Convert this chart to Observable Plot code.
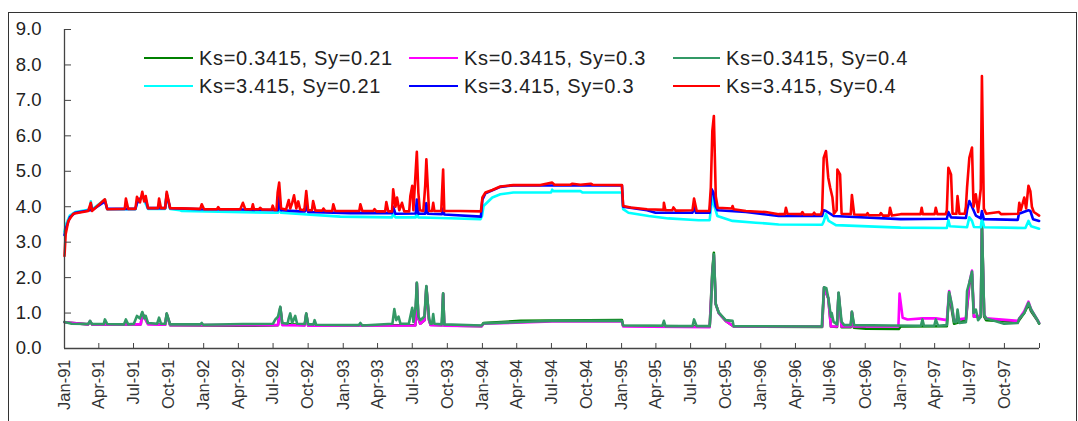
<!DOCTYPE html>
<html><head><meta charset="utf-8">
<script src="https://cdn.jsdelivr.net/npm/d3@7"></script>
<script src="https://cdn.jsdelivr.net/npm/@observablehq/plot@0.6"></script>
<style>
html,body{margin:0;padding:0;background:#fff;overflow:hidden;}
#wrap{position:relative;width:1078px;height:421px;overflow:hidden;}
#frame{position:absolute;left:8px;top:12px;width:1069px;height:440px;border:1px solid #333;box-sizing:border-box;}
#chart{position:absolute;left:0;top:0;}
#legend{position:absolute;left:0;top:0;width:1078px;height:421px;font-family:"Liberation Sans",Arial,sans-serif;font-size:20px;color:#222;letter-spacing:0.7px;}
.item{position:absolute;display:flex;align-items:center;height:24px;white-space:nowrap;}
.swatch{height:2px;margin-right:6px;}
</style></head><body>
<div id="wrap"><div id="frame"></div><div id="chart"></div><div id="legend"></div></div>
<script>
// x values: day number since 1 Jan 1991; y values: series value
const seriesNames = ["Ks=0.3415, Sy=0.21","Ks=0.3415, Sy=0.3","Ks=0.3415, Sy=0.4","Ks=3.415, Sy=0.21","Ks=3.415, Sy=0.3","Ks=3.415, Sy=0.4"];
const seriesColors = ["#008000","#ff00ff","#339966","#00ffff","#0000ff","#ff0000"];
const xTickLabels = ["Jan-91","Apr-91","Jul-91","Oct-91","Jan-92","Apr-92","Jul-92","Oct-92","Jan-93","Apr-93","Jul-93","Oct-93","Jan-94","Apr-94","Jul-94","Oct-94","Jan-95","Apr-95","Jul-95","Oct-95","Jan-96","Apr-96","Jul-96","Oct-96","Jan-97","Apr-97","Jul-97","Oct-97"];
const yTicks = [0,1,2,3,4,5,6,7,8,9];

const green = [[0,0.74],[62,0.68],[67,0.77],[72,0.68],[200,0.68],[204,1.0],[219,0.7],[264,0.67],[268,0.97],[277,0.66],[461,0.64],[540,0.65],[560,0.66],[566,1.15],[571,0.7],[630,0.66],[634,0.97],[639,0.65],[920,0.66],[924,1.84],[928,0.85],[933,0.7],[944,0.8],[949,1.74],[956,0.8],[960,0.67],[990,0.66],[993,1.54],[996,0.65],[1094,0.63],[1099,0.72],[1196,0.78],[1462,0.8],[1465,0.64],[1692,0.62],[1699,2.2],[1703,2.7],[1708,1.25],[1716,1.0],[1734,0.78],[1755,0.62],[1987,0.61],[1992,1.72],[2003,1.42],[2010,0.62],[2026,0.61],[2030,1.56],[2038,0.6],[2062,0.6],[2065,1.02],[2070,0.59],[2102,0.56],[2188,0.55],[2193,0.62],[2314,0.63],[2320,1.55],[2333,0.7],[2364,0.8],[2373,1.8],[2380,2.1],[2385,0.9],[2403,0.9],[2406,3.45],[2412,0.9],[2417,0.8],[2500,0.75],[2517,1.0],[2528,1.25],[2535,1.05],[2552,0.78],[2556,0.7]];

const magenta = [[0,0.74],[62,0.68],[67,0.77],[72,0.68],[200,0.68],[204,1.0],[219,0.68],[264,0.67],[268,0.97],[277,0.66],[560,0.66],[566,1.15],[571,0.66],[630,0.65],[634,0.97],[639,0.64],[920,0.65],[924,1.84],[928,0.85],[933,0.7],[944,0.8],[949,1.74],[956,0.8],[960,0.66],[990,0.65],[993,1.54],[996,0.64],[1094,0.63],[1099,0.7],[1279,0.76],[1462,0.76],[1465,0.62],[1692,0.6],[1699,2.1],[1703,2.62],[1708,1.25],[1716,1.0],[1734,0.78],[1755,0.62],[1987,0.62],[1992,1.72],[2003,1.42],[2010,0.62],[2026,0.62],[2030,1.56],[2038,0.62],[2062,0.62],[2065,1.03],[2070,0.62],[2187,0.62],[2190,1.55],[2198,0.87],[2211,0.82],[2250,0.85],[2285,0.85],[2314,0.8],[2320,1.62],[2333,0.8],[2364,0.85],[2373,1.85],[2380,2.2],[2385,0.9],[2403,0.92],[2406,3.45],[2412,0.95],[2417,0.85],[2500,0.78],[2517,1.05],[2528,1.32],[2535,1.1],[2552,0.8],[2556,0.72]];

const seagreen = [[0,0.75],[19,0.7],[62,0.69],[67,0.78],[72,0.69],[103,0.69],[106,0.82],[112,0.69],[156,0.68],[161,0.82],[167,0.68],[182,0.7],[190,0.92],[198,0.85],[204,1.03],[209,0.85],[213,0.92],[219,0.72],[243,0.7],[248,0.87],[253,0.7],[264,0.7],[268,0.99],[277,0.68],[356,0.68],[360,0.72],[364,0.67],[468,0.69],[494,0.69],[547,0.7],[553,0.82],[560,0.9],[566,1.18],[571,0.72],[585,0.7],[588,0.85],[592,0.99],[597,0.72],[605,0.92],[610,0.7],[630,0.69],[634,0.99],[639,0.68],[653,0.68],[656,0.8],[660,0.67],[772,0.66],[776,0.72],[781,0.65],[860,0.7],[865,1.11],[870,0.8],[876,0.9],[881,0.7],[903,0.7],[907,0.9],[912,1.15],[915,0.75],[921,1.2],[924,1.86],[928,0.9],[933,0.8],[944,0.9],[949,1.76],[956,0.85],[960,0.7],[964,0.7],[967,0.97],[970,0.7],[989,0.68],[993,1.56],[996,0.68],[1094,0.65],[1099,0.71],[1231,0.76],[1279,0.78],[1462,0.78],[1465,0.65],[1568,0.64],[1572,0.78],[1576,0.63],[1647,0.63],[1651,0.82],[1658,0.63],[1692,0.63],[1695,1.06],[1699,2.09],[1703,2.66],[1708,1.25],[1716,1.01],[1734,0.8],[1752,0.78],[1755,0.63],[1986,0.62],[1992,1.73],[1998,1.7],[2003,1.43],[2010,0.9],[2012,1.0],[2017,0.75],[2026,0.68],[2030,1.58],[2038,0.75],[2045,0.66],[2062,0.66],[2065,1.04],[2071,0.66],[2167,0.65],[2246,0.64],[2250,0.82],[2254,0.64],[2281,0.64],[2285,0.82],[2291,0.64],[2314,0.66],[2320,1.59],[2327,1.25],[2333,0.75],[2339,0.74],[2342,1.1],[2347,0.72],[2364,0.74],[2367,1.62],[2373,1.86],[2380,2.17],[2384,1.0],[2390,1.1],[2396,0.8],[2403,0.9],[2406,3.5],[2412,0.95],[2417,0.85],[2464,0.7],[2500,0.72],[2504,0.85],[2517,1.0],[2528,1.29],[2535,1.1],[2552,0.8],[2556,0.71]];

const cyan = [[0,3.3],[4,3.5],[14,3.75],[28,3.85],[67,3.92],[69,4.15],[72,3.92],[106,4.2],[112,3.93],[186,3.93],[190,4.1],[204,4.3],[219,3.94],[264,3.94],[268,4.35],[277,3.94],[303,3.9],[308,3.88],[547,3.83],[560,3.83],[563,4.0],[568,3.83],[723,3.72],[859,3.7],[862,3.8],[868,3.7],[921,3.7],[924,3.85],[928,3.7],[986,3.68],[1091,3.65],[1095,3.74],[1099,4.02],[1122,4.26],[1143,4.35],[1177,4.4],[1276,4.4],[1279,4.48],[1282,4.44],[1353,4.44],[1359,4.4],[1462,4.4],[1465,3.93],[1479,3.83],[1532,3.74],[1584,3.67],[1663,3.62],[1692,3.62],[1699,4.3],[1702,4.1],[1712,3.74],[1752,3.6],[1813,3.55],[1873,3.5],[1987,3.49],[1991,3.58],[1997,3.79],[2004,3.6],[2023,3.48],[2193,3.41],[2314,3.4],[2318,3.62],[2322,3.45],[2367,3.42],[2373,3.7],[2380,3.6],[2385,3.43],[2403,3.42],[2406,3.69],[2412,3.42],[2520,3.4],[2528,3.6],[2535,3.45],[2556,3.38]];

const blue = [[0,3.2],[4,3.4],[14,3.7],[28,3.83],[67,3.9],[69,4.08],[72,3.9],[106,4.15],[112,3.94],[186,3.94],[190,4.1],[204,4.3],[213,4.2],[219,3.96],[264,3.96],[268,4.35],[277,3.96],[356,3.93],[461,3.92],[560,3.9],[563,4.3],[568,3.9],[618,3.87],[631,3.87],[634,4.1],[639,3.85],[750,3.82],[859,3.82],[862,4.0],[868,3.8],[921,3.81],[924,4.2],[928,3.8],[946,3.8],[949,4.1],[953,3.8],[990,3.79],[993,3.95],[996,3.78],[1092,3.72],[1096,4.2],[1104,4.38],[1122,4.46],[1143,4.56],[1177,4.6],[1462,4.6],[1465,4.0],[1528,3.9],[1550,3.83],[1647,3.83],[1651,4.0],[1656,3.83],[1692,3.83],[1697,4.5],[1702,4.4],[1708,4.0],[1713,3.9],[1787,3.85],[1873,3.74],[1987,3.74],[1991,3.9],[1997,3.88],[2017,3.74],[2193,3.65],[2314,3.66],[2318,3.85],[2325,3.7],[2364,3.68],[2367,3.9],[2373,4.16],[2380,4.0],[2390,3.75],[2403,3.67],[2406,3.88],[2411,3.65],[2500,3.63],[2503,3.8],[2528,3.9],[2533,3.88],[2540,3.65],[2556,3.6]];

const red = [[0,2.61],[3,3.22],[10,3.6],[23,3.8],[62,3.88],[69,4.11],[72,3.88],[106,4.21],[112,3.93],[158,3.94],[161,4.23],[167,3.94],[186,3.94],[190,4.28],[198,4.12],[204,4.42],[209,4.15],[213,4.3],[219,3.96],[245,3.96],[248,4.23],[253,3.96],[264,3.96],[268,4.42],[277,3.96],[356,3.94],[360,4.07],[366,3.93],[400,3.93],[403,3.99],[407,3.93],[461,3.93],[468,4.11],[474,3.93],[491,3.93],[494,4.07],[497,3.93],[510,3.93],[513,3.97],[518,3.92],[543,3.92],[546,4.03],[550,3.91],[556,3.91],[559,4.4],[563,4.68],[568,3.95],[581,3.92],[588,4.19],[592,3.95],[597,4.1],[602,4.32],[608,3.95],[613,4.15],[618,3.92],[629,3.9],[634,4.44],[639,3.9],[649,3.9],[652,4.16],[658,3.89],[676,3.89],[679,3.95],[684,3.88],[702,3.88],[705,4.07],[710,3.88],[773,3.88],[776,4.07],[781,3.88],[810,3.88],[813,3.93],[818,3.87],[841,3.87],[844,4.13],[849,3.87],[859,3.87],[862,4.49],[868,4.0],[872,4.26],[878,3.9],[885,4.11],[891,3.87],[904,3.87],[907,4.3],[912,4.59],[915,3.9],[921,5.0],[924,5.55],[928,4.4],[932,3.9],[941,3.88],[944,4.3],[946,4.6],[949,5.34],[953,4.5],[956,3.88],[964,3.88],[967,4.11],[970,3.88],[988,3.88],[991,4.6],[993,5.05],[996,3.88],[1038,3.88],[1092,3.87],[1096,4.26],[1104,4.4],[1122,4.47],[1143,4.57],[1177,4.61],[1248,4.61],[1279,4.68],[1285,4.62],[1327,4.62],[1332,4.65],[1353,4.62],[1380,4.65],[1385,4.62],[1462,4.61],[1465,4.02],[1485,3.98],[1528,3.93],[1571,3.91],[1572,4.11],[1576,3.9],[1594,3.9],[1597,3.98],[1603,3.89],[1647,3.9],[1651,4.23],[1658,3.88],[1691,3.88],[1695,4.54],[1699,6.14],[1703,6.56],[1708,4.3],[1713,3.97],[1750,3.95],[1752,4.02],[1755,3.93],[1787,3.88],[1839,3.85],[1873,3.79],[1889,3.79],[1892,3.97],[1896,3.8],[1932,3.79],[1935,3.85],[1939,3.78],[1962,3.78],[1966,3.83],[1970,3.78],[1984,3.78],[1987,3.9],[1991,5.38],[1997,5.57],[2003,4.82],[2008,4.54],[2014,4.26],[2018,3.8],[2025,3.9],[2027,5.05],[2034,4.91],[2038,3.8],[2062,3.79],[2065,4.33],[2071,3.78],[2103,3.77],[2106,3.82],[2109,3.76],[2138,3.76],[2141,3.82],[2146,3.75],[2162,3.75],[2165,3.97],[2170,3.75],[2193,3.79],[2245,3.79],[2248,3.97],[2251,3.79],[2282,3.79],[2285,3.97],[2289,3.79],[2311,3.79],[2314,3.9],[2318,5.1],[2325,4.91],[2329,3.8],[2339,3.8],[2342,4.3],[2347,3.8],[2361,3.8],[2364,4.0],[2367,4.54],[2373,5.38],[2380,5.67],[2384,4.0],[2390,4.35],[2396,3.85],[2403,4.5],[2406,7.69],[2411,3.95],[2417,3.8],[2451,3.85],[2456,3.79],[2501,3.8],[2504,4.11],[2508,3.9],[2517,4.26],[2522,3.95],[2528,4.59],[2533,4.44],[2537,4.0],[2542,3.85],[2556,3.75]];

const seriesValues = [green, magenta, seagreen, cyan, blue, red];

const start = new Date(Date.UTC(1991,0,1));
const end = new Date(Date.UTC(1998,0,1));
const toDate = d => d3.utcDay.offset(start, d);
const parseTick = d3.utcParse("%b-%y");
const tickDates = xTickLabels.map(parseTick);
const tickMarkDates = tickDates.concat([end]);
const labelOf = new Map(tickDates.map((d,i)=>[+d, xTickLabels[i]]));

const lines = seriesValues.map((vals, i) =>
  Plot.line(vals.map(([d,v]) => ({date: toDate(d), value: v})), {
    x: "date", y: "value", stroke: seriesColors[i], strokeWidth: 2.6, strokeLinejoin: "round"
  }));

const chart = Plot.plot({
  width: 1078, height: 421,
  marginLeft: 64, marginRight: 39, marginTop: 29, marginBottom: 73,
  style: {fontFamily: "'Liberation Sans', Arial, sans-serif", fontSize: "17px", color: "#222", background: "transparent", overflow: "visible"},
  x: {type: "utc", domain: [start, end]},
  y: {domain: [0, 9]},
  marks: [
    ...lines,
    Plot.ruleY([0], {stroke: "#444", strokeWidth: 1.3}),
    Plot.ruleX([start], {stroke: "#444", strokeWidth: 1.3}),
    Plot.axisX({ticks: tickMarkDates, tickSize: -5, tickFormat: () => "", stroke: "#444", label: null}),
    Plot.axisX({ticks: tickDates, tickSize: 0, tickPadding: 11, tickRotate: -90, tickFormat: d => labelOf.get(+d), fill: "#333", fontSize: 16.5, label: null}),
    Plot.axisY({ticks: yTicks, tickSize: -7, tickFormat: () => "", stroke: "#444", label: null}),
    Plot.axisY({ticks: yTicks, tickSize: 0, tickPadding: 23, tickFormat: d3.format(".1f"), fill: "#222", fontSize: 18.5, label: null})
  ]
});
document.getElementById("chart").appendChild(chart);

// legend overlay (inside plot area, like the original)
const legendCols = [144, 409, 673];
const legendRows = [58, 86];
const legend = document.getElementById("legend");
seriesNames.forEach((name, i) => {
  const row = Math.floor(i/3), col = i%3;
  const item = document.createElement("div");
  item.className = "item";
  item.style.left = legendCols[col] + "px";
  item.style.top = (legendRows[row] - 12) + "px";
  const sw = document.createElement("div");
  sw.className = "swatch";
  sw.style.width = (col === 2 ? 47 : 49) + "px";
  sw.style.background = seriesColors[i];
  const tx = document.createElement("span");
  tx.textContent = name;
  item.appendChild(sw); item.appendChild(tx);
  legend.appendChild(item);
});
</script>
</body></html>
